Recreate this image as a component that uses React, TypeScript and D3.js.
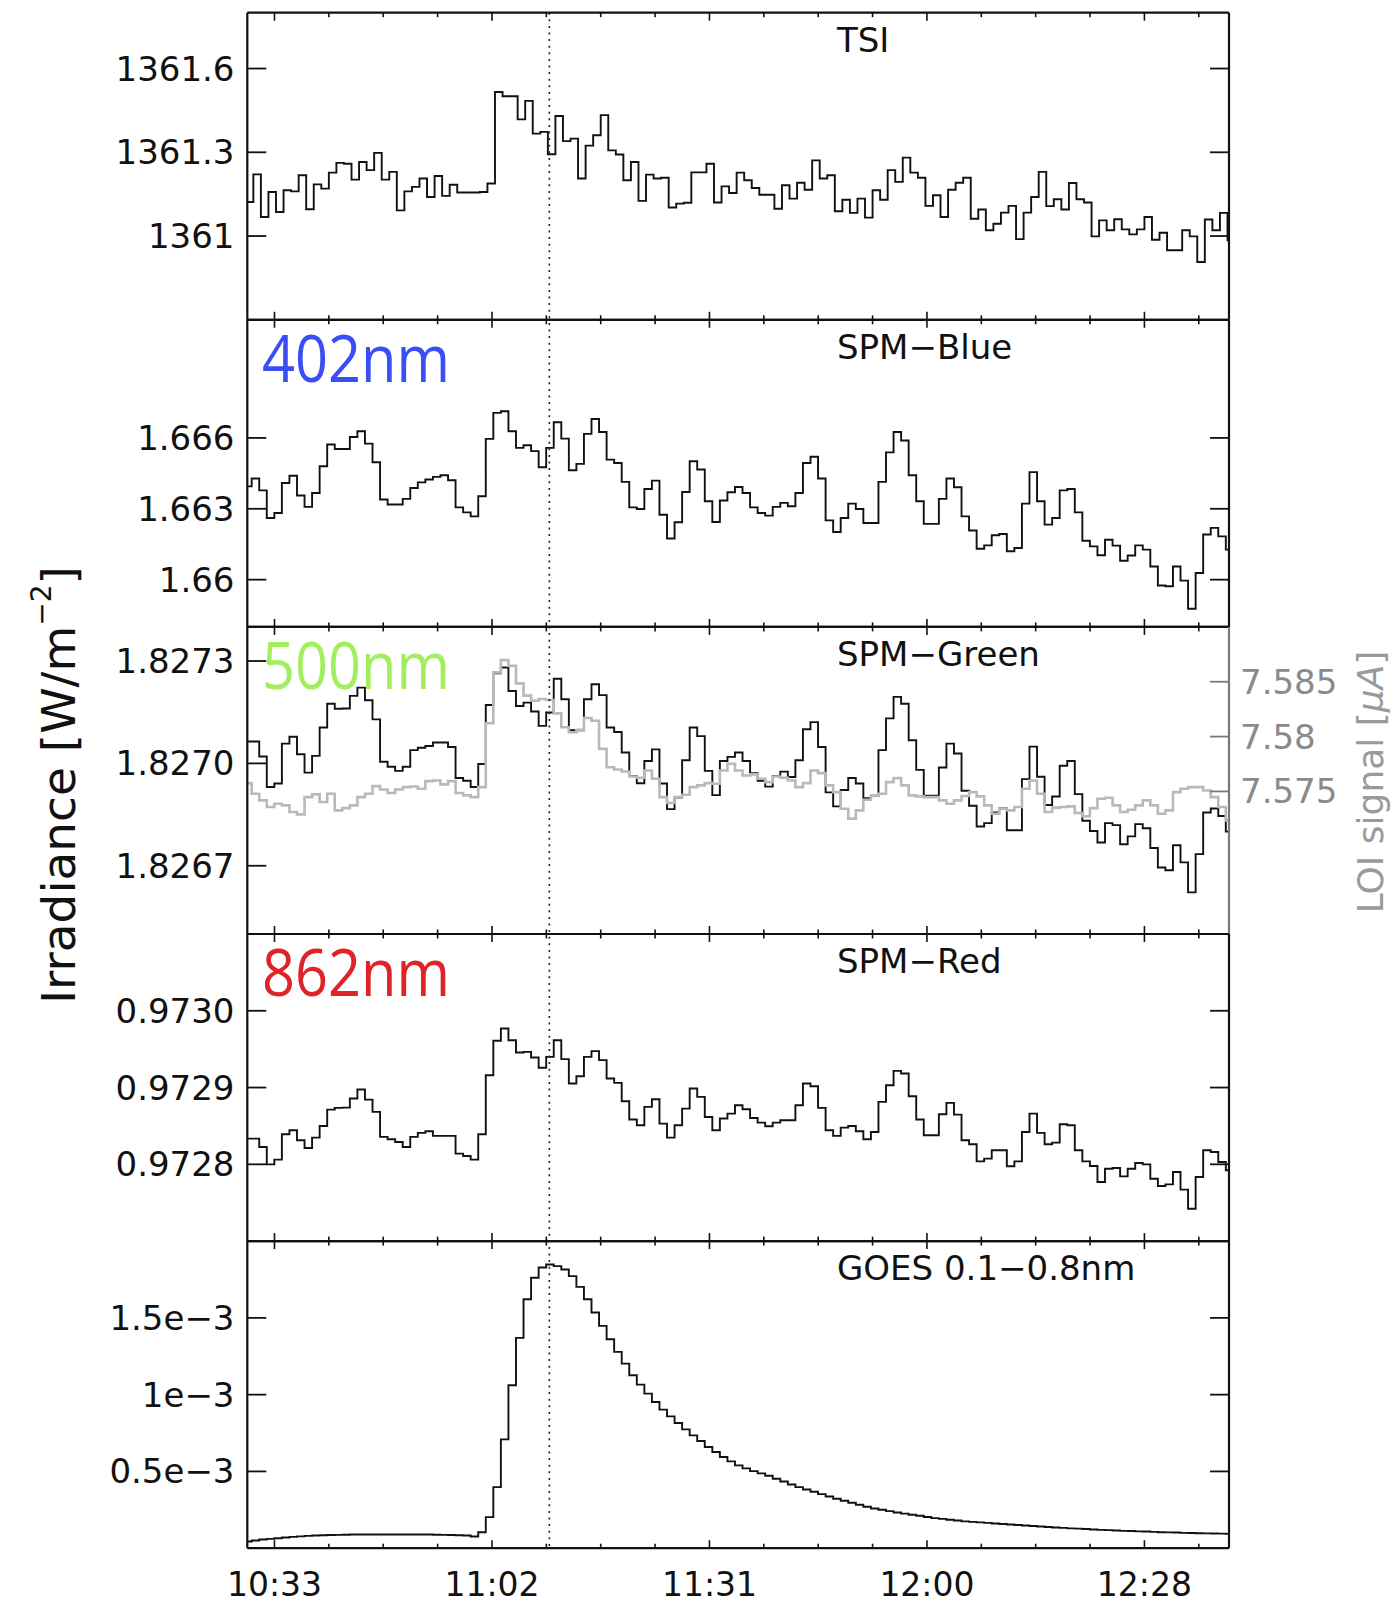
import React from "react";
import * as d3 from "d3";

// ---------- data (1-minute samples, time in minutes of day) ----------
const tsi = [
  1361.122, 1361.221, 1361.068, 1361.158, 1361.086, 1361.164, 1361.160, 1361.218, 1361.096, 1361.185,
  1361.170, 1361.227, 1361.262, 1361.259, 1361.202, 1361.265, 1361.236, 1361.298, 1361.202, 1361.230,
  1361.092, 1361.160, 1361.176, 1361.206, 1361.140, 1361.215, 1361.144, 1361.184, 1361.156, 1361.156,
  1361.156, 1361.158, 1361.188, 1361.516, 1361.501, 1361.501, 1361.418, 1361.484, 1361.367, 1361.373,
  1361.293, 1361.430, 1361.340, 1361.349, 1361.206, 1361.324, 1361.361, 1361.433, 1361.307, 1361.292,
  1361.200, 1361.265, 1361.126, 1361.220, 1361.206, 1361.209, 1361.102, 1361.116, 1361.119, 1361.228,
  1361.228, 1361.259, 1361.120, 1361.178, 1361.154, 1361.227,
  1361.200, 1361.172, 1361.148, 1361.148, 1361.098,
  1361.182, 1361.134, 1361.191, 1361.166, 1361.271,
  1361.206, 1361.218, 1361.089, 1361.130, 1361.083,
  1361.134, 1361.066, 1361.164, 1361.130, 1361.236,
  1361.194, 1361.281, 1361.227, 1361.209, 1361.108,
  1361.146, 1361.068, 1361.166, 1361.191, 1361.209,
  1361.062, 1361.095, 1361.021, 1361.044, 1361.084,
  1361.108, 1360.989, 1361.084, 1361.140, 1361.230,
  1361.107, 1361.132, 1361.095, 1361.190, 1361.132,
  1361.120, 1360.999, 1361.056, 1361.021, 1361.060,
  1361.024, 1361.006, 1361.024, 1361.068, 1360.987,
  1361.012, 1360.949, 1360.949, 1361.021, 1360.999,
  1360.907, 1361.059, 1361.021, 1361.083, 1360.985,
];

const spmBlue = [
  1.66395, 1.66428, 1.66378, 1.66261, 1.66282, 1.66409, 1.66440, 1.66356, 1.66308, 1.66367,
  1.66480, 1.66572, 1.66553, 1.66553, 1.66604, 1.66628, 1.66576, 1.66497, 1.66339, 1.66318,
  1.66318, 1.66342, 1.66388, 1.66412, 1.66424, 1.66435, 1.66442, 1.66421, 1.66306, 1.66285,
  1.66268, 1.66353, 1.66596, 1.66706, 1.66713, 1.66628, 1.66558, 1.66569, 1.66544, 1.66476,
  1.66558, 1.66666, 1.66597, 1.66463, 1.66490, 1.66617, 1.66680, 1.66625, 1.66508, 1.66494,
  1.66414, 1.66306, 1.66299, 1.66384, 1.66419, 1.66275, 1.66174, 1.66243, 1.66371, 1.66501,
  1.66466, 1.66332, 1.66244, 1.66335, 1.66370, 1.66392,
  1.66367, 1.66306, 1.66282, 1.66271, 1.66308,
  1.66325, 1.66311, 1.66367, 1.66494, 1.66520,
  1.66428, 1.66251, 1.66202, 1.66261, 1.66322,
  1.66299, 1.66240, 1.66240, 1.66414, 1.66539,
  1.66625, 1.66589, 1.66442, 1.66332, 1.66236,
  1.66236, 1.66342, 1.66428, 1.66391, 1.66268,
  1.66208, 1.66131, 1.66145, 1.66188, 1.66193,
  1.66120, 1.66134, 1.66322, 1.66455, 1.66332,
  1.66233, 1.66261, 1.66378, 1.66384, 1.66285,
  1.66165, 1.66141, 1.66103, 1.66169, 1.66144,
  1.66080, 1.66102, 1.66145, 1.66127, 1.66056,
  1.65975, 1.65972, 1.66056, 1.65996, 1.65877,
  1.66028, 1.66191, 1.66219, 1.66183, 1.66127,
];

const spmGreen = [
  1.827064, 1.827064, 1.827020, 1.826931, 1.826941, 1.827058, 1.827078, 1.827027, 1.826973, 1.827022,
  1.827105, 1.827175, 1.827160, 1.827161, 1.827198, 1.827222, 1.827185, 1.827129, 1.827005, 1.826990,
  1.826978, 1.826990, 1.827039, 1.827046, 1.827051, 1.827061, 1.827061, 1.827048, 1.826957, 1.826949,
  1.826931, 1.826998, 1.827171, 1.827264, 1.827281, 1.827212, 1.827168, 1.827178, 1.827152, 1.827110,
  1.827149, 1.827248, 1.827188, 1.827097, 1.827097, 1.827188, 1.827232, 1.827200, 1.827105, 1.827092,
  1.827032, 1.826963, 1.826942, 1.827007, 1.827041, 1.826941, 1.826866, 1.826900, 1.827009, 1.827105,
  1.827080, 1.826978, 1.826907, 1.827007, 1.827019, 1.827032,
  1.827007, 1.826971, 1.826949, 1.826932, 1.826963,
  1.826976, 1.826960, 1.827009, 1.827100, 1.827121,
  1.827048, 1.826915, 1.826874, 1.826922, 1.826957,
  1.826941, 1.826898, 1.826905, 1.827039, 1.827132,
  1.827195, 1.827175, 1.827068, 1.826981, 1.826905,
  1.826905, 1.826988, 1.827058, 1.827029, 1.826920,
  1.826876, 1.826815, 1.826825, 1.826856, 1.826868,
  1.826804, 1.826804, 1.826954, 1.827049, 1.826961,
  1.826878, 1.826903, 1.826993, 1.827007, 1.826910,
  1.826832, 1.826802, 1.826768, 1.826825, 1.826819,
  1.826763, 1.826786, 1.826822, 1.826810, 1.826752,
  1.826695, 1.826687, 1.826760, 1.826710, 1.826622,
  1.826734, 1.826856, 1.826868, 1.826846, 1.826800,
];

const loiSignal = [
  7.57576, 7.57479, 7.57418, 7.57358, 7.57388, 7.57373, 7.57312, 7.57291, 7.57448, 7.57473,
  7.57403, 7.57479, 7.57327, 7.57348, 7.57373, 7.57448, 7.57479, 7.57548, 7.57518, 7.57485,
  7.57518, 7.57539, 7.57545, 7.57524, 7.57594, 7.57600, 7.57564, 7.57594, 7.57485, 7.57464,
  7.57448, 7.57539, 7.58121, 7.58585, 7.58697, 7.58645, 7.58485, 7.58373, 7.58327, 7.58342,
  7.58333, 7.58212, 7.58085, 7.58039, 7.58061, 7.58170, 7.58145, 7.57888, 7.57721, 7.57700,
  7.57682, 7.57636, 7.57624, 7.57691, 7.57615, 7.57448, 7.57394, 7.57448, 7.57470, 7.57539,
  7.57555, 7.57576, 7.57570, 7.57691, 7.57752, 7.57691,
  7.57645, 7.57655, 7.57615, 7.57585, 7.57636,
  7.57624, 7.57600, 7.57539, 7.57576, 7.57691,
  7.57667, 7.57555, 7.57494, 7.57342, 7.57252,
  7.57327, 7.57424, 7.57458, 7.57479, 7.57585,
  7.57621, 7.57555, 7.57464, 7.57455, 7.57448,
  7.57448, 7.57418, 7.57388, 7.57418, 7.57458,
  7.57494, 7.57455, 7.57373, 7.57297, 7.57342,
  7.57327, 7.57358, 7.57524, 7.57600, 7.57479,
  7.57312, 7.57352, 7.57358, 7.57364, 7.57303,
  7.57273, 7.57348, 7.57433, 7.57442, 7.57373,
  7.57312, 7.57333, 7.57373, 7.57418, 7.57373,
  7.57297, 7.57327, 7.57494, 7.57524, 7.57539,
  7.57539, 7.57509, 7.57448, 7.57358, 7.57236,
];

const spmRed = [
  0.9728335, 0.9728335, 0.9728226, 0.9728000, 0.9728061, 0.9728391, 0.9728443, 0.9728313, 0.9728213, 0.9728348,
  0.9728500, 0.9728713, 0.9728735, 0.9728739, 0.9728857, 0.9728974, 0.9728843, 0.9728683, 0.9728357, 0.9728326,
  0.9728291, 0.9728226, 0.9728357, 0.9728409, 0.9728430, 0.9728370, 0.9728370, 0.9728370, 0.9728139, 0.9728109,
  0.9728061, 0.9728391, 0.9729161, 0.9729609, 0.9729770, 0.9729617, 0.9729457, 0.9729465, 0.9729391, 0.9729257,
  0.9729400, 0.9729617, 0.9729370, 0.9729052, 0.9729148, 0.9729400, 0.9729474, 0.9729357, 0.9729117, 0.9729061,
  0.9728822, 0.9728583, 0.9728509, 0.9728748, 0.9728848, 0.9728530, 0.9728348, 0.9728509, 0.9728726, 0.9728987,
  0.9728878, 0.9728617, 0.9728443, 0.9728596, 0.9728661, 0.9728770,
  0.9728717, 0.9728604, 0.9728543, 0.9728496, 0.9728543,
  0.9728574, 0.9728574, 0.9728770, 0.9729052, 0.9729017,
  0.9728735, 0.9728443, 0.9728370, 0.9728478, 0.9728500,
  0.9728430, 0.9728326, 0.9728422, 0.9728813, 0.9729030,
  0.9729217, 0.9729183, 0.9728887, 0.9728583, 0.9728378,
  0.9728378, 0.9728652, 0.9728800, 0.9728648, 0.9728313,
  0.9728261, 0.9728039, 0.9728074, 0.9728183, 0.9728183,
  0.9727974, 0.9728039, 0.9728422, 0.9728661, 0.9728409,
  0.9728261, 0.9728283, 0.9728522, 0.9728509, 0.9728183,
  0.9728039, 0.9727978, 0.9727770, 0.9727943, 0.9727952,
  0.9727843, 0.9727943, 0.9728017, 0.9728000, 0.9727813,
  0.9727717, 0.9727739, 0.9727900, 0.9727670, 0.9727422,
  0.9727835, 0.9728183, 0.9728161, 0.9728030, 0.9727922,
];

// GOES 0.1-0.8 nm flux, W/m^2
const goesFlux = [
  0.0435e-3, 0.0500e-3, 0.0565e-3, 0.0609e-3, 0.0652e-3, 0.0696e-3, 0.0739e-3, 0.0772e-3, 0.0804e-3, 0.0826e-3,
  0.0848e-3, 0.0859e-3, 0.0870e-3, 0.0880e-3, 0.0891e-3, 0.0891e-3, 0.0891e-3, 0.0891e-3, 0.0891e-3, 0.0891e-3,
  0.0891e-3, 0.0891e-3, 0.0891e-3, 0.0891e-3, 0.0891e-3, 0.0880e-3, 0.0870e-3, 0.0859e-3, 0.0848e-3, 0.0826e-3,
  0.0761e-3, 0.1043e-3, 0.2022e-3, 0.3978e-3, 0.7087e-3, 1.0609e-3, 1.3696e-3, 1.6217e-3, 1.7609e-3, 1.8283e-3,
  1.8478e-3, 1.8370e-3, 1.8152e-3, 1.7717e-3, 1.7022e-3, 1.6217e-3, 1.5348e-3, 1.4478e-3, 1.3609e-3, 1.2783e-3,
  1.2022e-3, 1.1261e-3, 1.0652e-3, 1.0065e-3, 0.9522e-3, 0.9022e-3, 0.8587e-3, 0.8152e-3, 0.7739e-3, 0.7348e-3,
  0.6978e-3, 0.6587e-3, 0.6261e-3, 0.5935e-3, 0.5652e-3, 0.5391e-3,
  0.5196e-3, 0.5022e-3, 0.4870e-3, 0.4717e-3, 0.4522e-3,
  0.4348e-3, 0.4152e-3, 0.3978e-3, 0.3826e-3, 0.3674e-3,
  0.3522e-3, 0.3370e-3, 0.3217e-3, 0.3087e-3, 0.2957e-3,
  0.2826e-3, 0.2696e-3, 0.2587e-3, 0.2500e-3, 0.2413e-3,
  0.2326e-3, 0.2250e-3, 0.2174e-3, 0.2109e-3, 0.2033e-3,
  0.1957e-3, 0.1913e-3, 0.1848e-3, 0.1804e-3, 0.1750e-3,
  0.1717e-3, 0.1685e-3, 0.1652e-3, 0.1609e-3, 0.1576e-3,
  0.1543e-3, 0.1511e-3, 0.1478e-3, 0.1446e-3, 0.1413e-3,
  0.1380e-3, 0.1348e-3, 0.1326e-3, 0.1293e-3, 0.1272e-3,
  0.1250e-3, 0.1217e-3, 0.1196e-3, 0.1174e-3, 0.1152e-3,
  0.1130e-3, 0.1120e-3, 0.1098e-3, 0.1087e-3, 0.1065e-3,
  0.1043e-3, 0.1033e-3, 0.1022e-3, 0.1000e-3, 0.0989e-3,
  0.0978e-3, 0.0967e-3, 0.0957e-3, 0.0946e-3, 0.0935e-3,
];

// sample timing (minutes of day): start of first 1-minute bin
const TSI_T0 = 629.8;
const SPM_T0 = 629.58;
const CADENCE = 1;
const FLARE_PEAK = 670; // 11:10

// axis ticks
const timeDomain = [630, 760];
const majorTimeTicks = [633.6, 662.4, 691.2, 720, 748.8];
const majorTimeLabels = ["10:33", "11:02", "11:31", "12:00", "12:28"];
const minorTimeStep = 7.2;

const tsiTicks = [1361, 1361.3, 1361.6];
const tsiTickLabels = ["1361", "1361.3", "1361.6"];
const blueTicks = [1.66, 1.663, 1.666];
const blueTickLabels = ["1.66", "1.663", "1.666"];
const greenTicks = [1.8267, 1.827, 1.8273];
const greenTickLabels = ["1.8267", "1.8270", "1.8273"];
const redTicks = [0.9728, 0.9729, 0.973];
const redTickLabels = ["0.9728", "0.9729", "0.9730"];
const goesTicks = [0.5e-3, 1e-3, 1.5e-3];
const goesTickLabels = ["0.5e\u22123", "1e\u22123", "1.5e\u22123"];
const loiTicks = [7.575, 7.58, 7.585];
const loiTickLabels = ["7.575", "7.58", "7.585"];

type Panel = {
  title: string;
  values: number[];
  t0: number;
  domain: [number, number];
  ticks: number[];
  labels: string[];
  tag?: { text: string; color: string };
};

const panels: Panel[] = [
  { title: "TSI", values: tsi, t0: TSI_T0, domain: [1360.7, 1361.8], ticks: tsiTicks, labels: tsiTickLabels },
  { title: "SPM\u2212Blue", values: spmBlue, t0: SPM_T0, domain: [1.658, 1.671], ticks: blueTicks, labels: blueTickLabels, tag: { text: "402nm", color: "#3b4ef5" } },
  { title: "SPM\u2212Green", values: spmGreen, t0: SPM_T0, domain: [1.8265, 1.8274], ticks: greenTicks, labels: greenTickLabels, tag: { text: "500nm", color: "#a3ee5f" } },
  { title: "SPM\u2212Red", values: spmRed, t0: SPM_T0, domain: [0.9727, 0.9731], ticks: redTicks, labels: redTickLabels, tag: { text: "862nm", color: "#df2329" } },
  { title: "GOES 0.1\u22120.8nm", values: goesFlux, t0: SPM_T0, domain: [0, 2e-3], ticks: goesTicks, labels: goesTickLabels },
];

const LOI_DOMAIN: [number, number] = [7.562, 7.59];

function stepPath(values: number[], t0: number, x: d3.ScaleLinear<number, number>, y: d3.ScaleLinear<number, number>) {
  const pts: [number, number][] = values.map((v, i) => [t0 + i * CADENCE, v]);
  pts.push([t0 + values.length * CADENCE, values[values.length - 1]]);
  const line = d3
    .line<[number, number]>()
    .x((d) => x(d[0]))
    .y((d) => y(d[1]))
    .curve(d3.curveStepAfter);
  return line(pts) || "";
}

export default function App() {
  const W = 1398;
  const H = 1606;
  const left = 247.3;
  const right = 1229;
  const top0 = 12.7;
  const ph = 307.1;
  const font = "'DejaVu Sans', sans-serif";
  const tickFont = 34;

  const x = d3.scaleLinear().domain(timeDomain).range([left, right]);
  const minorTicks = d3
    .range(majorTimeTicks[0] - minorTimeStep, timeDomain[1] + 0.001, minorTimeStep)
    .filter((t) => t >= timeDomain[0] && t <= timeDomain[1]);
  const bottom = top0 + ph * panels.length;

  return (
    <svg
      width={W}
      height={H}
      style={{ position: "absolute", left: 0, top: 0, background: "#fff" }}
      fontFamily={font}
    >
      <rect x={0} y={0} width={W} height={H} fill="#fff" />
      <defs>
        {panels.map((p, i) => (
          <clipPath id={`clip${i}`} key={i}>
            <rect x={left} y={top0 + i * ph} width={right - left} height={ph} />
          </clipPath>
        ))}
      </defs>

      {panels.map((p, i) => {
        const y0 = top0 + i * ph;
        const y1 = y0 + ph;
        const y = d3.scaleLinear().domain(p.domain).range([y1, y0]);
        const isGreen = i === 2;
        const yLoi = d3.scaleLinear().domain(LOI_DOMAIN).range([y1, y0]);
        return (
          <g key={i}>
            <g clipPath={`url(#clip${i})`}>
              <path d={stepPath(p.values, p.t0, x, y)} fill="none" stroke="#111" strokeWidth={1.9} />
              {isGreen && (
                <path d={stepPath(loiSignal, p.t0, x, yLoi)} fill="none" stroke="#b9b9b9" strokeWidth={2.6} />
              )}
            </g>
            {/* frame */}
            <line x1={left} x2={right} y1={y0} y2={y0} stroke="#111" strokeWidth={2.2} />
            <line x1={left} x2={right} y1={y1} y2={y1} stroke="#111" strokeWidth={2.2} />
            <line x1={left} x2={left} y1={y0} y2={y1} stroke="#111" strokeWidth={2.2} />
            <line x1={right} x2={right} y1={y0} y2={y1} stroke={isGreen ? "#7a7a7a" : "#111"} strokeWidth={2.2} />
            {/* x ticks top/bottom */}
            {minorTicks.map((t, k) => {
              const isMajor = majorTimeTicks.some((m) => Math.abs(m - t) < 0.01);
              const len = isMajor ? 8 : 4.5;
              return (
                <g key={k} stroke="#111" strokeWidth={1.6}>
                  <line x1={x(t)} x2={x(t)} y1={y0} y2={y0 + len} />
                  <line x1={x(t)} x2={x(t)} y1={y1} y2={y1 - len} />
                </g>
              );
            })}
            {/* y ticks */}
            {p.ticks.map((t, k) => (
              <g key={k}>
                <line x1={left} x2={left + 19} y1={y(t)} y2={y(t)} stroke="#111" strokeWidth={1.8} />
                {!isGreen && <line x1={right - 19} x2={right} y1={y(t)} y2={y(t)} stroke="#111" strokeWidth={1.8} />}
                <text x={234.5} y={y(t)} textAnchor="end" dominantBaseline="central" fontSize={tickFont} fill="#111">
                  {p.labels[k]}
                </text>
              </g>
            ))}
            {isGreen &&
              loiTicks.map((t, k) => (
                <g key={`l${k}`}>
                  <line x1={right - 19} x2={right} y1={yLoi(t)} y2={yLoi(t)} stroke="#7a7a7a" strokeWidth={1.8} />
                  <text x={1240} y={yLoi(t)} dominantBaseline="central" fontSize={tickFont} fill="#8a8a8a">
                    {loiTickLabels[k]}
                  </text>
                </g>
              ))}
            {/* title */}
            <text x={837} y={y0 + 39} fontSize={34} fill="#111">
              {p.title}
            </text>
            {p.tag && (
              <text
                x={262}
                y={y0 + 62}
                fontSize={65}
                fontFamily="'Open Sans', sans-serif"
                fill={p.tag.color}
                textLength={188}
                lengthAdjust="spacingAndGlyphs"
              >
                {p.tag.text}
              </text>
            )}
          </g>
        );
      })}

      {/* flare peak marker */}
      <line
        x1={x(FLARE_PEAK)}
        x2={x(FLARE_PEAK)}
        y1={top0}
        y2={bottom}
        stroke="#222"
        strokeWidth={1.6}
        strokeDasharray="2 4.6"
      />

      {/* time labels */}
      {majorTimeTicks.map((t, k) => (
        <text key={k} x={x(t)} y={1596} textAnchor="middle" fontSize={33} fill="#111">
          {majorTimeLabels[k]}
        </text>
      ))}

      {/* y axis title */}
      <text
        transform={`translate(58, 785) rotate(-90)`}
        textAnchor="middle"
        dominantBaseline="central"
        fontSize={47}
        fill="#111"
      >
        Irradiance [W/m
        <tspan fontSize={28} dy={-17}>
          {"\u22122"}
        </tspan>
        <tspan dy={17}>]</tspan>
      </text>

      {/* right axis title */}
      <text
        transform={`translate(1370, 782) rotate(-90)`}
        textAnchor="middle"
        dominantBaseline="central"
        fontSize={36}
        fill="#9a9a9a"
      >
        LOI signal [<tspan fontStyle="italic">μA</tspan>]
      </text>
    </svg>
  );
}
